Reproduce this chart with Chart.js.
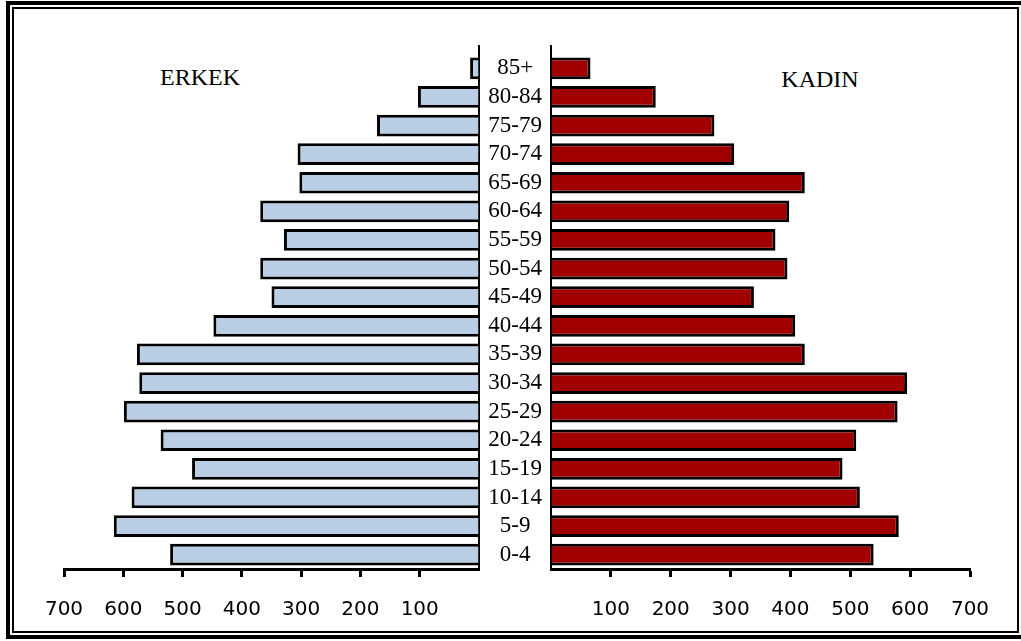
<!DOCTYPE html>
<html>
<head>
<meta charset="utf-8">
<script src="https://cdn.jsdelivr.net/npm/chart.js@4.4.1/dist/chart.umd.min.js"></script>
<style>
  html, body { margin: 0; padding: 0; background: #fff; overflow: hidden; }
  body { width: 1021px; height: 641px; position: relative; }
  .frame1 { position: absolute; left: 6px; top: 1px; width: 1030px; height: 638px; border: 4px solid #000; box-sizing: border-box; }
  .frame2 { position: absolute; left: 12px; top: 7px; width: 1007px; height: 626px; border: 2px solid #000; box-sizing: border-box; }
  .side { position: absolute; width: 200px; text-align: center; font-family: "Liberation Serif", serif; font-size: 24px; line-height: 24px; color: #000; }
  canvas { position: absolute; top: 0; }
</style>
</head>
<body>
<div class="frame1"></div>
<div class="frame2"></div>
<div class="side" style="left:100px; top:65px;">ERKEK</div>
<div class="side" style="left:720px; top:67px;">KADIN</div>
<canvas id="left" width="500" height="641" style="left:0"></canvas>
<canvas id="right" width="540" height="641" style="left:481px"></canvas>
<script>
const ageGroups = ['85+', '80-84', '75-79', '70-74', '65-69', '60-64', '55-59', '50-54', '45-49',
  '40-44', '35-39', '30-34', '25-29', '20-24', '15-19', '10-14', '5-9', '0-4'];
const erkek = [15, 103, 172, 306, 303, 369, 329, 369, 350, 448, 577, 573, 599, 537, 484, 586, 616, 521];
const kadin = [66, 175, 273, 306, 424, 398, 375, 395, 339, 408, 424, 595, 579, 510, 487, 516, 581, 539];
const axisMax = 700;
const axisStep = 100;

// vertical axis line runs a bit above the top bar
const axisTop = {
  id: 'axisTop',
  afterDraw(chart) {
    const {ctx, chartArea} = chart;
    const x = chart.scales.y.position === 'right' ? chartArea.right : chartArea.left;
    ctx.save();
    ctx.strokeStyle = '#000';
    ctx.lineWidth = 2;
    ctx.beginPath();
    ctx.moveTo(x, 45);
    ctx.lineTo(x, chartArea.top + 1);
    ctx.stroke();
    ctx.restore();
  }
};

function xScale(reverse) {
  return {
    reverse: reverse,
    min: 0,
    max: axisMax,
    ticks: {
      stepSize: axisStep,
      autoSkip: false,
      maxRotation: 0,
      callback: v => v === 0 ? '' : v,
      color: '#000',
      font: { family: 'DejaVu Sans', size: 20 },
      padding: 21
    },
    grid: {
      drawOnChartArea: false,
      tickLength: 8,
      tickWidth: 3,
      tickColor: c => c.tick && c.tick.value === 0 ? 'rgba(0,0,0,0)' : '#000'
    },
    border: { color: '#000', width: 3 },
    afterFit: s => { s.height = 72; }
  };
}

new Chart(document.getElementById('left'), {
  type: 'bar',
  data: {
    labels: ageGroups,
    datasets: [{
      data: erkek,
      backgroundColor: '#b9cde5',
      borderColor: '#000',
      borderWidth: 3,
      barPercentage: 0.76,
      categoryPercentage: 1
    }]
  },
  options: {
    indexAxis: 'y',
    responsive: false,
    animation: false,
    devicePixelRatio: 1,
    layout: { padding: { left: 64, right: 18, top: 54, bottom: 0 } },
    plugins: { legend: { display: false }, tooltip: { enabled: false } },
    scales: {
      x: xScale(true),
      y: {
        position: 'right',
        ticks: { display: false },
        grid: { display: false, drawTicks: false },
        border: { color: '#000', width: 2 },
        afterFit: s => { s.width = 0; }
      }
    }
  },
  plugins: [axisTop]
});

new Chart(document.getElementById('right'), {
  type: 'bar',
  data: {
    labels: ageGroups,
    datasets: [{
      data: kadin,
      backgroundColor: '#a00000',
      borderColor: '#000',
      borderWidth: 3,
      barPercentage: 0.76,
      categoryPercentage: 1
    }]
  },
  options: {
    indexAxis: 'y',
    responsive: false,
    animation: false,
    devicePixelRatio: 1,
    layout: { padding: { left: 0, right: 51, top: 54, bottom: 0 } },
    plugins: { legend: { display: false }, tooltip: { enabled: false } },
    scales: {
      x: xScale(false),
      y: {
        position: 'left',
        ticks: {
          autoSkip: false,
          crossAlign: 'center',
          padding: 9,
          color: '#000',
          font: { family: 'Liberation Serif', size: 23 }
        },
        grid: { display: false, drawTicks: false },
        border: { color: '#000', width: 2 },
        afterFit: s => { s.width = 70; }
      }
    }
  },
  plugins: [axisTop]
});
</script>
</body>
</html>
